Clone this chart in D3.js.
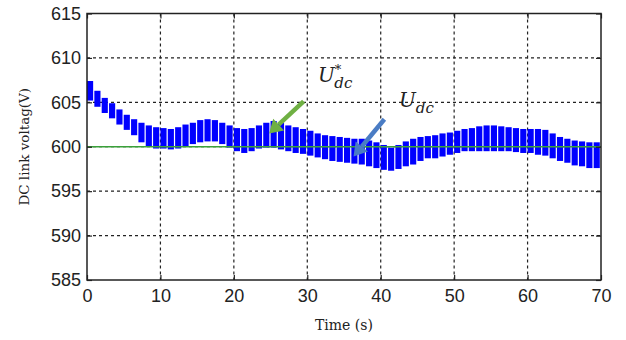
<!DOCTYPE html>
<html>
<head>
<meta charset="utf-8">
<script src="https://cdn.jsdelivr.net/npm/d3@7"></script>
<style>
  body { margin: 0; background: #fff; }
  svg { display: block; }
</style>
</head>
<body>
<svg id="chart" width="626" height="340"></svg>
<script>
// time axis ticks (s) and voltage ticks (V)
const xTicks = [0, 10, 20, 30, 40, 50, 60, 70];
const yTicks = [585, 590, 595, 600, 605, 610, 615];

// one ripple block per second: start time, upper and lower envelope of Udc
const blockTime = d3.range(0, 70);
const udcUpper = [607.4, 606.3, 605.5, 604.9, 604.2, 603.6, 603.1, 602.7, 602.4, 602.2,
  602.1, 602.0, 602.2, 602.5, 602.7, 603.0, 603.1, 603.0, 602.7, 602.4,
  602.1, 602.0, 602.1, 602.4, 602.7, 602.9, 602.7, 602.4, 602.2, 602.0,
  601.8, 601.5, 601.3, 601.2, 601.1, 601.0, 600.9, 600.9, 600.7, 600.5,
  600.2, 599.9, 600.2, 600.6, 600.9, 601.1, 601.2, 601.3, 601.5, 601.6,
  601.8, 602.0, 602.1, 602.3, 602.4, 602.4, 602.3, 602.2, 602.1, 602.0,
  602.0, 602.0, 601.9, 601.5, 601.1, 600.9, 600.7, 600.6, 600.5, 600.5];
const udcLower = [605.2, 604.5, 603.8, 603.2, 602.5, 601.9, 601.3, 600.5, 600.0, 599.8,
  599.8, 599.7, 599.8, 600.0, 600.3, 600.5, 600.6, 600.6, 600.3, 599.9,
  599.5, 599.3, 599.5, 599.8, 599.9, 599.9, 599.7, 599.5, 599.3, 599.2,
  599.0, 598.8, 598.6, 598.4, 598.3, 598.2, 598.1, 598.0, 597.8, 597.6,
  597.4, 597.3, 597.5, 597.8, 598.0, 598.4, 598.7, 598.7, 598.9, 599.1,
  599.3, 599.5, 599.5, 599.5, 599.5, 599.5, 599.5, 599.5, 599.4, 599.3,
  599.3, 599.1, 599.0, 598.7, 598.4, 598.2, 597.9, 597.8, 597.6, 597.6];
// reference Udc*
const udcRef = [{t: 0, v: 600}, {t: 70, v: 600}];

const margin = {top: 13.5, right: 25, bottom: 60, left: 87};
const width = 626, height = 340;

const svg = d3.select('#chart');

const x = d3.scaleLinear().domain([0, 70]).range([margin.left, width - margin.right]);
const y = d3.scaleLinear().domain([585, 615]).range([height - margin.bottom, margin.top]);

// dashed grid
svg.append('g')
  .selectAll('line.vg')
  .data(xTicks.slice(1, -1))
  .enter().append('line')
  .attr('x1', d => x(d)).attr('x2', d => x(d))
  .attr('y1', y(615)).attr('y2', y(585))
  .attr('stroke', '#222').attr('stroke-width', 1.2)
  .attr('stroke-dasharray', '3,3');

svg.append('g')
  .selectAll('line.hg')
  .data(yTicks.slice(1, -1))
  .enter().append('line')
  .attr('x1', x(0)).attr('x2', x(70))
  .attr('y1', d => y(d)).attr('y2', d => y(d))
  .attr('stroke', '#222').attr('stroke-width', 1.2)
  .attr('stroke-dasharray', '3,3');

// Udc ripple band
const bw = x(1) - x(0);
svg.append('g')
  .selectAll('rect')
  .data(blockTime)
  .enter().append('rect')
  .attr('x', d => x(d))
  .attr('width', bw - 1.2)
  .attr('y', (d, i) => y(udcUpper[i]))
  .attr('height', (d, i) => y(udcLower[i]) - y(udcUpper[i]))
  .attr('fill', '#0000ff');

// reference line
svg.append('path')
  .datum(udcRef)
  .attr('d', d3.line().x(d => x(d.t)).y(d => y(d.v)))
  .attr('fill', 'none')
  .attr('stroke', '#3aa13a')
  .attr('stroke-width', 1.5);

// axes with inside ticks
const axisStyle = g => {
  g.select('.domain').remove();
  g.selectAll('.tick line').attr('stroke', '#222').attr('stroke-width', 1.2);
  g.selectAll('.tick text')
    .attr('font-family', 'Liberation Sans, Arial, sans-serif')
    .attr('font-size', 18).attr('fill', '#222');
};

svg.append('g')
  .attr('transform', `translate(0,${y(585)})`)
  .call(d3.axisBottom(x).tickValues(xTicks).tickSizeInner(-5).tickSizeOuter(0).tickPadding(9))
  .call(axisStyle);

svg.append('g')
  .attr('transform', `translate(${x(0)},0)`)
  .call(d3.axisLeft(y).tickValues(yTicks).tickSizeInner(-5).tickSizeOuter(0).tickPadding(6))
  .call(axisStyle);

svg.append('g')
  .attr('transform', `translate(0,${y(615)})`)
  .call(d3.axisTop(x).tickValues(xTicks).tickSizeInner(-5).tickSizeOuter(0).tickFormat(''))
  .call(axisStyle);

svg.append('g')
  .attr('transform', `translate(${x(70)},0)`)
  .call(d3.axisRight(y).tickValues(yTicks).tickSizeInner(-5).tickSizeOuter(0).tickFormat(''))
  .call(axisStyle);

// frame
svg.append('rect')
  .attr('x', x(0)).attr('y', y(615))
  .attr('width', x(70) - x(0)).attr('height', y(585) - y(615))
  .attr('fill', 'none').attr('stroke', '#222').attr('stroke-width', 1.5);

// axis titles
svg.append('text')
  .attr('x', (x(0) + x(70)) / 2).attr('y', 330)
  .attr('text-anchor', 'middle')
  .attr('font-family', 'DejaVu Serif, serif')
  .attr('font-size', 14).attr('fill', '#222')
  .text('Time (s)');

svg.append('text')
  .attr('transform', `translate(29,${(y(585) + y(615)) / 2}) rotate(-90)`)
  .attr('text-anchor', 'middle')
  .attr('font-family', 'DejaVu Serif, serif')
  .attr('font-size', 13.5).attr('fill', '#222')
  .text('DC link voltag(V)');

// annotations
const arrow = (x1, y1, x2, y2, color) => {
  const ang = Math.atan2(y2 - y1, x2 - x1);
  const hl = 13, hw = 8;
  const bx = x2 - hl * Math.cos(ang), by = y2 - hl * Math.sin(ang);
  svg.append('line')
    .attr('x1', x1).attr('y1', y1).attr('x2', bx).attr('y2', by)
    .attr('stroke', color).attr('stroke-width', 4.5);
  const px = -Math.sin(ang) * hw, py = Math.cos(ang) * hw;
  svg.append('path')
    .attr('d', `M${x2},${y2}L${bx + px},${by + py}L${bx - px},${by - py}Z`)
    .attr('fill', color);
};
arrow(x(29.5), y(605.1), x(24.8), y(601.5), '#6fb043');
arrow(x(40.5), y(603.1), x(36.3), y(598.9), '#4a7cc4');

const label = (lx, ly, star) => {
  const t = svg.append('text')
    .attr('x', lx).attr('y', ly)
    .attr('font-family', 'DejaVu Serif, serif')
    .attr('font-style', 'italic')
    .attr('font-size', 20).attr('fill', '#222');
  t.append('tspan').text('U');
  if (star) {
    t.append('tspan').attr('dy', -8).attr('font-size', 13).attr('font-style', 'normal').text('*');
    t.append('tspan').attr('dx', -7).attr('dy', 14).attr('font-size', 15).text('dc');
  } else {
    t.append('tspan').attr('dy', 6).attr('font-size', 15).text('dc');
  }
};
label(318, 82, true);
label(399, 107, false);
</script>
</body>
</html>
